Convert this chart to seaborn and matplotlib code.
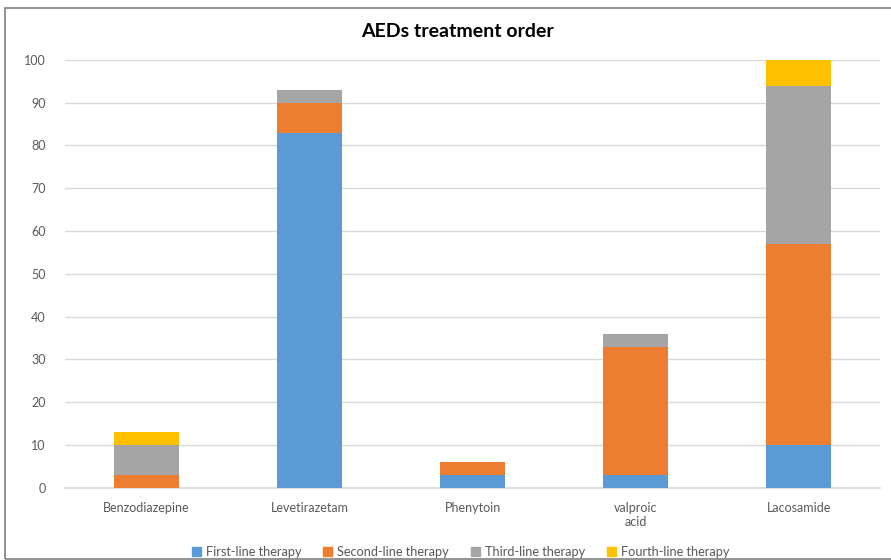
import matplotlib
matplotlib.use("Agg")
import matplotlib.pyplot as plt
import matplotlib.patches as mpatches
import seaborn as sns
import numpy as np
import pandas as pd

categories = ["Benzodiazepine", "Levetirazetam", "Phenytoin", "valproic\nacid", "Lacosamide"]
series_names = ["First-line therapy", "Second-line therapy", "Third-line therapy", "Fourth-line therapy"]
first_line = [0, 83, 3, 3, 10]
second_line = [3, 7, 3, 30, 47]
third_line = [7, 3, 0, 3, 37]
fourth_line = [3, 0, 0, 0, 6]
colors = ["#5B9BD5", "#ED7D31", "#A5A5A5", "#FFC000"]
yticks = list(range(0, 101, 10))

sns.set_theme(style="white")
plt.rcParams['font.family'] = ['Lato', 'DejaVu Sans']

fig = plt.figure(figsize=(8.91, 5.6), dpi=100)
ax = fig.add_axes([0.073, 0.129, 0.915, 0.764])

series = [first_line, second_line, third_line, fourth_line]
bottom = np.zeros(len(categories))
for name, vals, col in zip(series_names, series, colors):
    df = pd.DataFrame({"cat": categories, "val": vals})
    sns.barplot(data=df, x="cat", y="val", color=col, bottom=bottom, width=0.4,
                ax=ax, saturation=1, linewidth=0, order=categories)
    bottom = bottom + np.array(vals)

if ax.get_legend() is not None:
    ax.get_legend().remove()

ax.set_ylim(0, 100)
ax.set_yticks(yticks)
ax.set_xlim(-0.5, len(categories) - 0.5)
ax.yaxis.grid(True, color="#D9D9D9", linewidth=1)
ax.set_axisbelow(True)
for s in ["top", "right", "left"]:
    ax.spines[s].set_visible(False)
ax.spines["bottom"].set_color("#D9D9D9")
ax.spines["bottom"].set_zorder(0.5)
ax.set_xlabel("")
ax.set_ylabel("")
ax.tick_params(axis="both", length=0, labelsize=9, colors="#595959", pad=10)
ax.tick_params(axis="y", pad=14)

fig.text(0.514, 0.944, "AEDs treatment order", ha="center", va="center",
         fontsize=14, fontweight="bold", color="#000000")

handles = [mpatches.Patch(color=c, label=n) for c, n in zip(colors, series_names)]
fig.legend(handles=handles, loc="center", bbox_to_anchor=(0.517, 0.015), ncol=4,
           frameon=False, fontsize=9.2, handlelength=0.7, handleheight=0.7,
           handletextpad=0.4, columnspacing=1.7, labelcolor="#595959")

border = mpatches.Rectangle((5 / 891, 0.002), 1.0, 1 - 8 / 560 - 0.002,
                            transform=fig.transFigure, fill=False,
                            edgecolor="#7F7F7F", linewidth=1.2)
fig.add_artist(border)

fig.savefig("out.png", dpi=100, facecolor="white")
